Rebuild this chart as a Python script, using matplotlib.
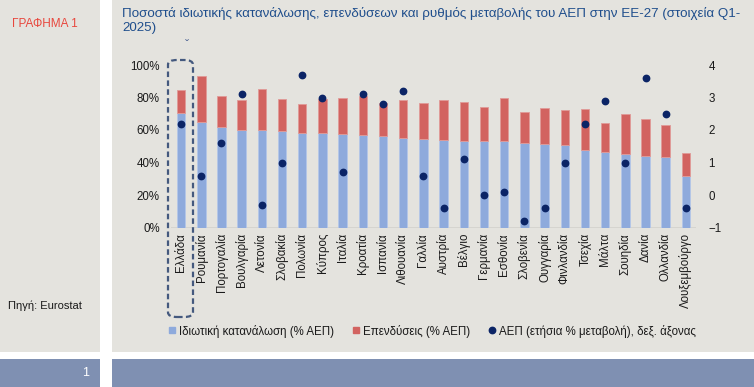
import matplotlib
matplotlib.use("Agg")
import matplotlib.pyplot as plt
from matplotlib.patches import Rectangle, FancyBboxPatch
from matplotlib.lines import Line2D
import numpy as np

plt.rcParams['font.family'] = ['Liberation Sans', 'DejaVu Sans']

countries = ["Ελλάδα", "Ρουμανία", "Πορτογαλία", "Βουλγαρία", "Λετονία", "Σλοβακία",
             "Πολωνία", "Κύπρος", "Ιταλία", "Κροατία", "Ισπανία", "Λιθουανία", "Γαλλία",
             "Αυστρία", "Βέλγιο", "Γερμανία", "Εσθονία", "Σλοβενία", "Ουγγαρία",
             "Φινλανδία", "Τσεχία", "Μάλτα", "Σουηδία", "Δανία", "Ολλανδία", "Λουξεμβούργο"]
consumption = [70.2, 64.9, 61.6, 60.0, 60.0, 59.3, 58.3, 58.1, 57.5, 56.7, 56.5, 55.0, 54.4,
               53.8, 53.2, 53.2, 53.2, 52.0, 51.3, 50.5, 47.6, 46.4, 45.4, 44.1, 43.3, 31.8]
total_top = [84.4, 93.0, 81.1, 78.4, 85.2, 79.1, 75.8, 78.9, 79.7, 81.1, 76.4, 78.4, 76.4,
             78.4, 77.4, 74.1, 79.7, 71.0, 73.3, 72.1, 72.9, 64.5, 69.8, 66.5, 62.8, 45.6]
investment = [round(t - c, 1) for t, c in zip(total_top, consumption)]
gdp_growth = [2.2, 0.6, 1.6, 3.1, -0.3, 1.0, 3.7, 3.0, 0.7, 3.1, 2.8, 3.2, 0.6,
              -0.4, 1.1, 0.0, 0.1, -0.8, -0.4, 1.0, 2.2, 2.9, 1.0, 3.6, 2.5, -0.4]
y_ticks = [0, 20, 40, 60, 80, 100]
y2_ticks = [-1, 0, 1, 2, 3, 4]

W, H = 754, 387
fig = plt.figure(figsize=(W / 100, H / 100), dpi=100)
fig.patch.set_facecolor('white')

bg = '#e4e3de'
band = '#7f90b2'
def px_rect(x0, y0, x1, y1, color):
    fig.patches.append(Rectangle((x0 / W, 1 - y1 / H), (x1 - x0) / W, (y1 - y0) / H,
                                 transform=fig.transFigure, facecolor=color,
                                 edgecolor='none', zorder=-10))
px_rect(0, 0, 100, 352, bg)
px_rect(112, 0, W, 352, bg)
px_rect(0, 359, 100, H, band)
px_rect(112, 359, W, H, band)

ax = fig.add_axes([171 / W, 1 - 227.5 / H, 525 / W, 162.5 / H])
ax.set_zorder(1)
ax.set_facecolor('none')
x = np.arange(len(countries))
blue = '#8eaadc'
red = '#d26360'
ax.bar(x, consumption, width=0.42, color=blue, edgecolor='#b4c6e8', linewidth=0.6, zorder=2)
ax.bar(x, investment, bottom=consumption, width=0.42, color=red, edgecolor='#e09a98',
       linewidth=0.6, zorder=2)
ax.set_xlim(-0.5, len(countries) - 0.5)
ax.set_ylim(0, 100)
ax.set_yticks(y_ticks)
ax.set_yticklabels([f"{v}%" for v in y_ticks])
ax.set_xticks(x)
ax.set_xticklabels(countries, rotation=90, ha='center', va='top')
ax.tick_params(axis='both', length=0, labelsize=8.3, colors='#1a1a1a')
ax.tick_params(axis='y', pad=8)
ax.tick_params(axis='x', pad=4)
for s in ax.spines.values():
    s.set_visible(False)
ax.axhline(0, color='#d2d1cc', linewidth=1.2, zorder=1)

ax2 = ax.twinx()
ax2.set_zorder(2)
ax2.set_facecolor('none')
ax2.set_ylim(-1, 4)
ax2.set_yticks(y2_ticks)
ax2.plot(x, gdp_growth, linestyle='none', marker='o', markersize=4.6,
         color='#0b2466', zorder=3)
ax2.tick_params(axis='y', length=0, labelsize=8.3, colors='#1a1a1a', pad=9)
for s in ax2.spines.values():
    s.set_visible(False)

# dashed highlight box around Greece
box = FancyBboxPatch((168 / W, 1 - 317 / H), 25 / W, 257 / H,
                     boxstyle="round,pad=0,rounding_size=0.012",
                     transform=fig.transFigure, facecolor='none',
                     edgecolor='#44597e', linewidth=1.6, linestyle=(0, (2.5, 1.5)), zorder=5)
fig.patches.append(box)
fig.text(187 / W, 1 - 46 / H, "ˇ", fontsize=9, color='#5a6e9a', ha='center', va='center')

# titles and texts
fig.text(122 / W, 1 - 13 / H, "Ποσοστά ιδιωτικής κατανάλωσης, επενδύσεων και ρυθμός μεταβολής του ΑΕΠ στην ΕΕ-27 (στοιχεία Q1-",
         fontsize=9.6, color='#1f4e8c', ha='left', va='center')
fig.text(122 / W, 1 - 28 / H, "2025)", fontsize=9.6, color='#1f4e8c', ha='left', va='center')
fig.text(12 / W, 1 - 24 / H, "ΓΡΑΦΗΜΑ 1", fontsize=8.5, color='#e8473d', ha='left', va='center')
fig.text(8 / W, 1 - 306 / H, "Πηγή: Eurostat", fontsize=8, color='#1a1a1a', ha='left', va='center')
fig.text(89 / W, 1 - 373 / H, "1", fontsize=9, color='white', ha='right', va='center')

handles = [Line2D([], [], linestyle='none', marker='s', markersize=5, color=blue),
           Line2D([], [], linestyle='none', marker='s', markersize=5, color=red),
           Line2D([], [], linestyle='none', marker='o', markersize=4.6, color='#0b2466')]
labels = ["Ιδιωτική κατανάλωση (% ΑΕΠ)", "Επενδύσεις (% ΑΕΠ)",
          "ΑΕΠ (ετήσια % μεταβολή), δεξ. άξονας"]
fig.legend(handles, labels, loc='center', bbox_to_anchor=(432 / W, 1 - 331 / H), ncol=3,
           frameon=False, fontsize=8.3, handlelength=0.6, handletextpad=0.3,
           columnspacing=1.6, labelcolor='#1a1a1a')

fig.savefig("out.png", dpi=100)
